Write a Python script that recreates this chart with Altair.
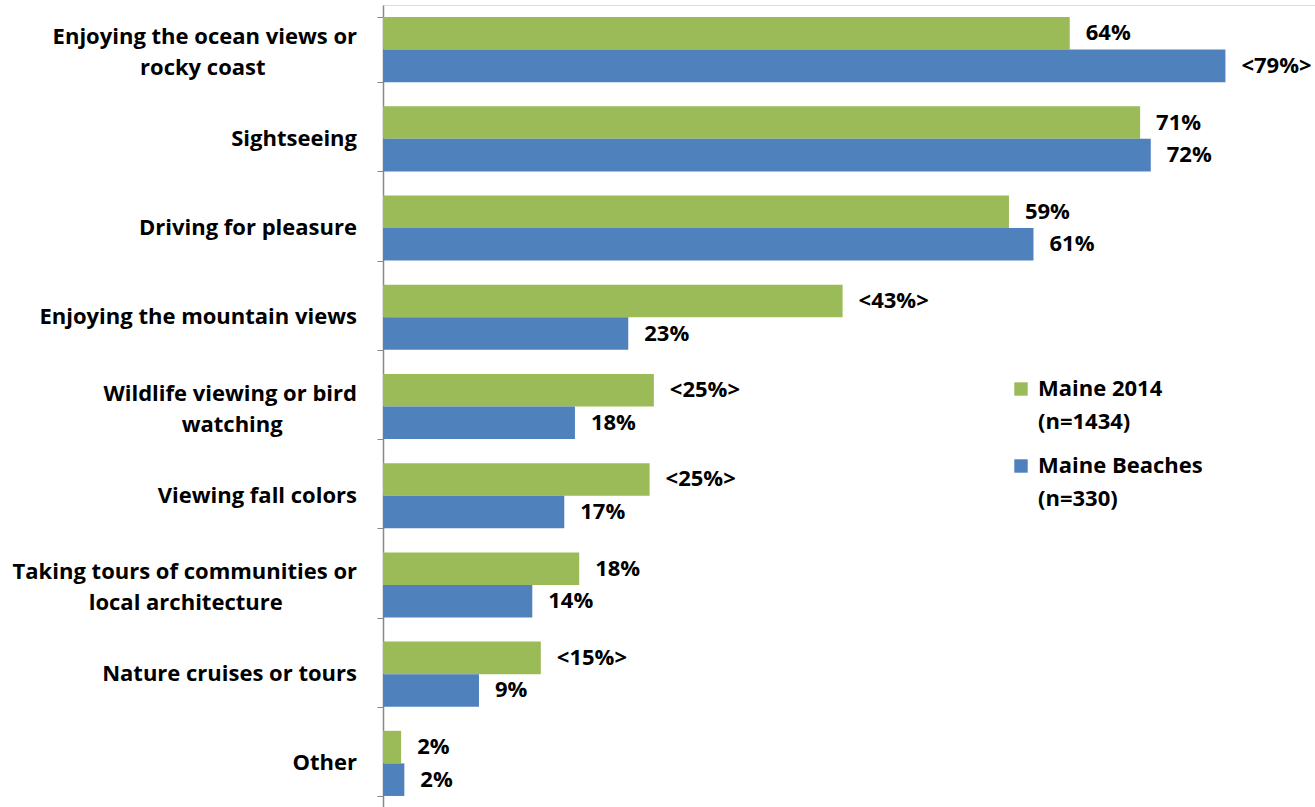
import altair as alt
import pandas as pd

categories = [
    "Enjoying the ocean views or\nrocky coast",
    "Sightseeing",
    "Driving for pleasure",
    "Enjoying the mountain views",
    "Wildlife viewing or bird\nwatching",
    "Viewing fall colors",
    "Taking tours of communities or\nlocal architecture",
    "Nature cruises or tours",
    "Other",
]
series = ["Maine 2014\n(n=1434)", "Maine Beaches\n(n=330)"]
maine2014 = [64.4, 71, 58.7, 43.1, 25.4, 25, 18.4, 14.8, 1.7]
beaches = [79, 72, 61, 23, 18, 17, 14, 9, 2]
labels2014 = ["64%", "71%", "59%", "<43%>", "<25%>", "<25%>", "18%", "<15%>", "2%"]
labelsBeaches = ["<79%>", "72%", "61%", "23%", "18%", "17%", "14%", "9%", "2%"]
colors = ["#9BBB59", "#4F81BD"]

# trailing non-breaking spaces (closed by a zero-width space so they are not trimmed)
# so the short second line sits centred under the first
NBSP = "\u00a0"
ZWSP = "\u200b"
second_line_pad = {0: 16, 4: 13, 6: 13}

rows = []
for i, c in enumerate(categories):
    rows.append({"cat": c, "series": series[0], "value": maine2014[i], "label": labels2014[i]})
    rows.append({"cat": c, "series": series[1], "value": beaches[i], "label": labelsBeaches[i]})
df = pd.DataFrame(rows)

cat_rows = []
for i, c in enumerate(categories):
    shown = c
    if i in second_line_pad:
        a, b = c.split("\n")
        shown = a + "\n" + b + NBSP * second_line_pad[i] + ZWSP
    cat_rows.append({"cat": c, "shown": shown, "multi": "\n" in c})
cat_df = pd.DataFrame(cat_rows)

FONT = "Open Sans"
FS = 22

yenc = alt.Y(
    "cat:N",
    sort=categories,
    scale=alt.Scale(paddingInner=0.27, paddingOuter=0.135),
    axis=alt.Axis(
        title=None,
        labels=False,
        tickBand="extent",
        tickSize=6,
        tickColor="#888888",
        domainColor="#888888",
        domainWidth=1.5,
        grid=False,
    ),
)
yoff = alt.YOffset("series:N", sort=series, scale=alt.Scale(paddingInner=0, paddingOuter=0))

bars = alt.Chart(df).mark_bar().encode(
    y=yenc,
    yOffset=yoff,
    x=alt.X("value:Q", scale=alt.Scale(domain=[0, 87.4], nice=False, zero=True), axis=None),
    color=alt.Color(
        "series:N",
        sort=series,
        scale=alt.Scale(domain=series, range=colors),
        legend=alt.Legend(
            title=None,
            orient="none",
            legendX=627,
            legendY=373,
            labelExpr="split(datum.label, '\\n')",
            labelFont=FONT,
            labelFontSize=FS,
            labelFontWeight="bold",
            labelColor="#000000",
            labelLimit=300,
            symbolType="square",
            symbolSize=180,
            symbolStrokeWidth=0,
            rowPadding=22,
            labelOffset=6,
        ),
    ),
)

values_text = alt.Chart(df).mark_text(
    align="left", baseline="middle", dx=16, font=FONT, fontSize=FS, fontWeight="bold", color="#000000"
).encode(
    y=alt.Y("cat:N", sort=categories),
    yOffset=yoff,
    x=alt.X("value:Q"),
    text="label:N",
)

cat_base = alt.Chart(cat_df).transform_calculate(lines="split(datum.shown, '\\n')")

single_labels = cat_base.transform_filter("!datum.multi").mark_text(
    align="right", baseline="middle", font=FONT, fontSize=FS, fontWeight="bold", color="#000000"
).encode(
    y=alt.Y("cat:N", sort=categories),
    x=alt.value(-26),
    text="lines:N",
)

multi_labels = cat_base.transform_filter("datum.multi").mark_text(
    align="right", baseline="middle", dy=-13, lineHeight=31,
    font=FONT, fontSize=FS, fontWeight="bold", color="#000000"
).encode(
    y=alt.Y("cat:N", sort=categories),
    x=alt.value(-26),
    text="lines:N",
)

chart = (
    alt.layer(bars, values_text, single_labels, multi_labels)
    .properties(
        width=932,
        height=803,
        padding={"left": 383, "top": 5, "right": 0, "bottom": 0},
        autosize=alt.AutoSizeParams(type="none"),
    )
    .configure_view(stroke=None)
    .configure(background="white", style={"guide-label": {"lineHeight": 33}})
)

chart.save("out.html", embed_options={"renderer": "svg", "actions": False})
